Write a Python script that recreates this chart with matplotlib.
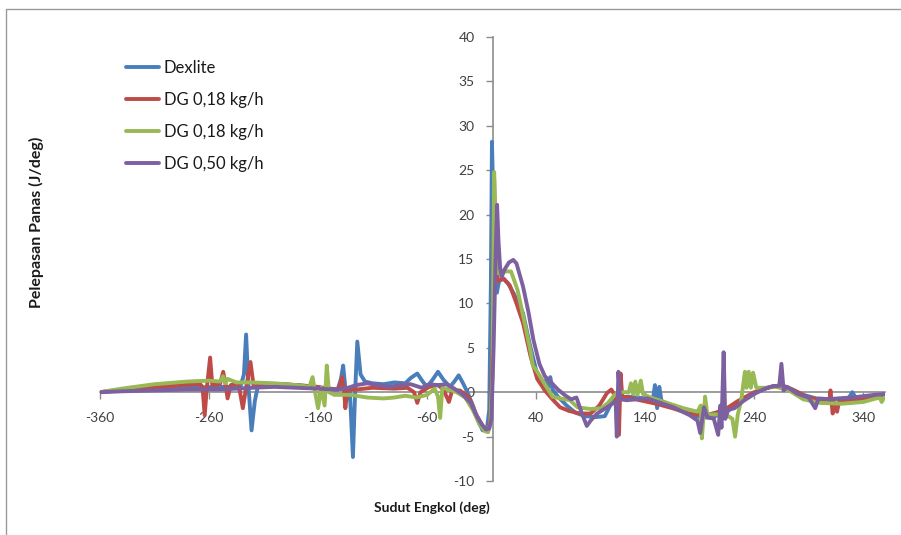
import matplotlib
matplotlib.use('Agg')
import matplotlib.pyplot as plt
from matplotlib.patches import Rectangle

# crank angle (deg) and heat release (J/deg) for each fuel
dexlite_deg = [-360, -340, -310, -280, -250, -236, -232, -228, -226, -224, -221, -218, -215,
               -200, -180, -160, -150, -142, -139, -137, -135, -134, -131, -128, -126, -124,
               -121, -117, -110, -100, -90, -80, -75, -69, -64, -60, -55, -50, -45, -39, -35,
               -31, -27, -23, -18, -13, -9, -5, -3, -1.5, -0.5, 1, 2.5, 4, 6, 10, 14, 20, 28,
               34, 40, 44, 48, 51, 53, 55, 60, 68, 76, 85, 95, 103, 108, 112, 125, 140, 147,
               149, 151, 153, 155, 165, 185, 200, 215, 230, 245, 258, 270, 285, 300, 320, 327,
               330, 333, 345, 360]
dexlite_val = [0.0, 0.2, 0.4, 0.5, 0.6, 0.6, 0.3, 2.0, 6.5, 1.0, -4.3, -1.0, 0.8,
               0.9, 0.8, 0.6, 0.3, 0.3, 1.5, 3.0, 0.5, -0.9, 0.5, -7.3, 0.0, 5.7,
               2.0, 1.2, 1.0, 0.9, 1.1, 1.0, 1.6, 2.1, 1.2, 0.6, 1.4, 2.3, 1.4, 0.6, 1.2,
               1.9, 1.0, 0.0, -1.5, -3.3, -4.3, -4.0, -2.0, 12.0, 28.2, 20.0, 12.0, 11.2, 12.5,
               12.8, 12.3, 11.0, 8.9, 5.5, 2.5, 1.2, 1.3, 0.6, 1.7, 0.3, -0.5, -1.5, -2.3,
               -2.7, -2.8, -2.7, -1.5, -0.6, -0.5, -0.7, -0.9, 0.8, -1.8, 0.6, -1.0, -1.5,
               -2.7, -2.9, -2.2, -0.8, 0.2, 0.7, 0.6, -0.3, -0.8, -0.7, -0.6, 0.0, -0.6, -0.5,
               -0.3]

dg018_deg = [-360, -340, -310, -285, -268, -266, -264, -262, -259, -257, -250, -247, -245,
             -243, -240, -233, -229, -226, -222, -219, -210, -190, -170, -155, -142, -140,
             -138, -136, -135, -133, -125, -110, -90, -78, -72, -69, -66, -58, -50, -45, -40,
             -37, -30, -22, -15, -8, -4, -2, 0, 1.5, 3, 5, 10, 16, 22, 28, 35, 41, 48, 55,
             62, 70, 80, 90, 98, 105, 109, 112, 114, 116, 117.5, 119, 125, 135, 150, 165,
             180, 195, 205, 215, 225, 240, 255, 265, 275, 290, 305, 309, 310, 312, 314, 316,
             318, 335, 360]
dg018_val = [0.0, 0.3, 0.6, 0.8, 0.9, 0.6, -2.6, 0.5, 3.9, 0.8, 0.9, 2.3, 1.0,
             -0.7, 0.8, 1.0, -1.8, 0.5, 3.4, 0.6, 0.9, 0.9, 0.7, 0.5, 0.3, 0.8,
             1.7, 0.0, -1.8, 0.3, 0.3, 0.5, 0.4, 0.5, 0.0, -1.2, 0.0, 0.6, 0.8, 0.3, -1.1,
             0.2, 0.2, -0.5, -2.5, -4.0, -4.3, -3.0, 5.0, 24.0, 16.0, 12.5, 12.8, 12.0, 10.0,
             7.8, 4.0, 1.5, 0.2, -0.8, -1.7, -2.1, -2.4, -2.4, -1.5, -0.1, 0.3, -0.3, -1.5,
             -4.8, 2.1, -0.5, -0.6, -0.9, -1.3, -1.8, -2.4, -2.6, -2.3, -1.8, -1.0, 0.0, 0.6,
             0.8, 0.3, -0.6, -1.0, -1.0, 0.2, -2.4, -1.2, -2.2, -1.0, -0.8, -0.3]

dg018b_deg = [-360, -340, -310, -280, -260, -250, -247, -245, -243, -235, -220, -200, -180,
              -168, -165, -163, -160, -157, -154, -152, -150, -145, -130, -115, -100, -90,
              -80, -70, -60, -53, -50, -48, -46, -40, -33, -25, -18, -12, -7, -4, -2, 0, 1.5,
              3.5, 5, 10, 17, 23, 30, 35, 37, 40, 45, 50, 55, 62, 71, 78, 90, 100, 106, 112,
              117, 125, 127, 129, 131, 133, 136, 138, 145, 160, 175, 188, 191, 192, 194, 195,
              197, 205, 215, 220, 222.5, 225, 228, 231.5, 233, 235, 237, 239, 242, 250, 260,
              272, 285, 300, 320, 340, 355, 357, 360]
dg018b_val = [0.0, 0.4, 0.9, 1.2, 1.3, 1.2, 1.8, 1.0, 1.5, 1.1, 1.1, 1.0, 0.8,
              0.6, 1.7, 0.2, -1.8, 0.5, -1.5, 3.0, 0.0, -0.3, -0.3, -0.6, -0.7, -0.6,
              -0.4, -0.6, -0.3, 0.4, -0.5, -2.9, 0.5, 0.3, 0.0, -0.6, -2.0, -3.6, -4.4, -4.5,
              -3.5, 2.0, 24.8, 15.0, 13.4, 13.6, 13.6, 11.5, 7.5, 4.5, 3.0, 2.5, 1.5, 0.5,
              -0.5, -0.7, -0.9, -1.7, -1.9, -1.8, -1.2, -0.3, 0.0, 0.0, 1.0, -0.2, 1.2, -0.3,
              1.3, -0.2, -0.6, -1.2, -1.8, -2.2, -1.5, -5.2, -2.0, -0.5, -2.5, -2.5, -2.6,
              -3.0, -5.0, -2.5, -1.0, 2.3, 0.5, 2.3, 0.5, 2.2, 0.5, 0.5, 0.6, 0.2, -0.8, -1.2,
              -1.3, -1.1, -0.6, -1.1, -0.4]

dg050_deg = [-360, -340, -310, -280, -250, -220, -200, -180, -160, -145, -135, -125, -115,
             -105, -95, -85, -75, -65, -58, -50, -42, -35, -28, -20, -14, -10, -6, -3, -1, 1,
             3, 4.2, 5.5, 7, 8.5, 11, 15, 19, 22, 25, 28, 33, 37.5, 43, 48, 53, 60, 66, 72,
             77, 82, 86.5, 90, 96, 105, 111, 113, 114, 115.5, 117, 123, 142, 166, 181, 188,
             190.5, 194, 197, 203, 207, 209, 210, 212, 213.5, 216, 222, 230, 240, 250, 258,
             263, 265, 267, 270, 280, 290, 296, 299, 310, 330, 350, 360]
dg050_val = [0.0, 0.1, 0.2, 0.3, 0.3, 0.5, 0.6, 0.5, 0.4, 0.3, 0.4, 0.8, 1.0,
             0.8, 0.6, 0.8, 0.9, 0.5, 0.9, 0.8, 0.9, 0.4, -0.2, -1.2, -2.8, -3.6, -4.2, -4.1,
             -3.0, 5.0, 16.0, 21.1, 17.0, 14.0, 13.0, 13.8, 14.6, 14.9, 14.5, 13.2, 11.9, 9.0,
             5.9, 3.2, 1.8, 1.2, 0.3, -0.3, -0.8, -0.6, -2.4, -3.8, -3.2, -2.4, -1.7, -1.2,
             -1.2, -5.0, 2.3, -0.8, -0.9, -0.7, -1.7, -2.6, -3.2, -4.6, -1.7, -2.8, -3.0,
             -4.8, -1.5, -4.0, 4.5, -3.0, -2.0, -1.8, -1.0, -0.2, 0.4, 0.7, 0.7, 3.2, 0.2,
             0.6, -0.2, -0.6, -1.8, -0.7, -0.8, -0.6, -0.3, -0.2]

series = [
    ('Dexlite', dexlite_deg, dexlite_val, '#4A7EBB'),
    ('DG 0,18 kg/h', dg018_deg, dg018_val, '#BE4B48'),
    ('DG 0,18 kg/h', dg018b_deg, dg018b_val, '#98B954'),
    ('DG 0,50 kg/h', dg050_deg, dg050_val, '#7D60A0'),
]

x_ticks = [-360, -260, -160, -60, 40, 140, 240, 340]
y_ticks = [-10, -5, 0, 5, 10, 15, 20, 25, 30, 35, 40]

plt.rcParams['font.family'] = ['Lato', 'DejaVu Sans']
plt.rcParams['axes.unicode_minus'] = False

W, H = 901, 535
fig = plt.figure(figsize=(W / 100, H / 100), dpi=100)
ax = fig.add_axes([100 / W, 1 - 481 / H, 785 / W, 444 / H])

for name, xs, ys, color in series:
    ax.plot(xs, ys, color=color, lw=2.8, label=name,
            solid_joinstyle='round', solid_capstyle='round')

ax.set_xlim(-360, 360)
ax.set_ylim(-10, 40)
ax.set_xticks(x_ticks)
ax.set_yticks(y_ticks)

axis_grey = '#8c8c8c'
for side in ('top', 'right'):
    ax.spines[side].set_visible(False)
for side in ('left', 'bottom'):
    ax.spines[side].set_position(('data', 0))
    ax.spines[side].set_color(axis_grey)
    ax.spines[side].set_linewidth(1.2)
    ax.spines[side].set_zorder(0.5)

ax.tick_params(axis='x', direction='out', length=5, width=1, color=axis_grey,
               labelsize=10, labelcolor='#404040', pad=9)
ax.tick_params(axis='y', direction='out', length=5, width=1, color=axis_grey,
               labelsize=10, labelcolor='#404040', pad=8)

fig.text(432 / W, 1 - 508 / H, 'Sudut Engkol (deg)', ha='center', va='center',
         fontsize=10, fontweight='bold', color='#1a1a1a')
fig.text(36 / W, 1 - 222 / H, 'Pelepasan Panas (J/deg)', ha='center', va='center',
         rotation=90, fontsize=11.5, fontweight='bold', color='#1a1a1a')

fig.legend(loc='upper left', bbox_to_anchor=(126 / W, 1 - 60 / H), frameon=False,
           fontsize=12, handlelength=2.0, handletextpad=0.25, labelspacing=0.95,
           borderpad=0, borderaxespad=0, labelcolor='#1a1a1a')

# thin frame along the top and left edge of the figure
fig.patches.append(Rectangle((6 / W, -0.1), 1.2, 1.1 - 9 / H, transform=fig.transFigure,
                             fill=False, edgecolor='#9a9a9a', linewidth=1.0))

fig.savefig('out.png', dpi=100)
